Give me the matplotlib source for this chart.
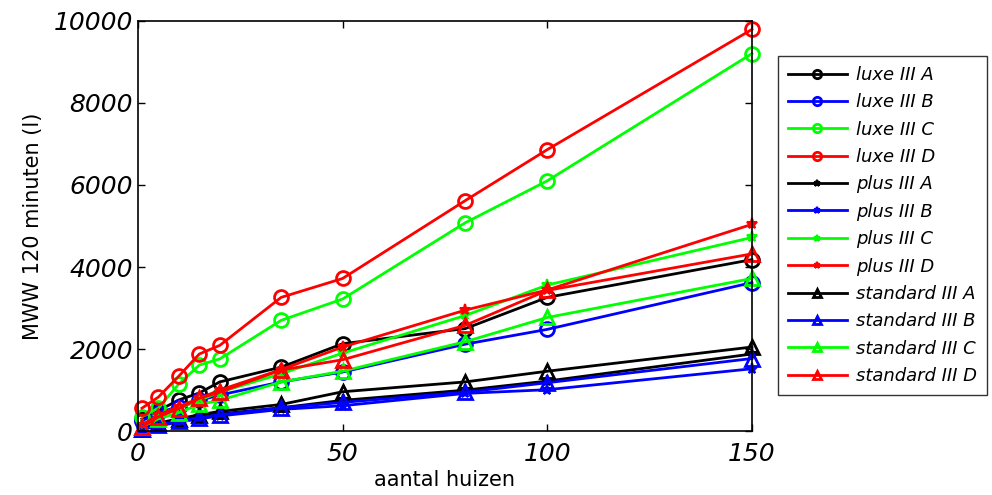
import matplotlib
matplotlib.use('Agg')
import matplotlib.pyplot as plt

## aantal huizen
huizen = [1, 5, 10, 15, 20, 35, 50, 80, 100, 150]

## MWW 120 minuten per type
luxe_A = [300, 500, 760, 930, 1200, 1560, 2130, 2500, 3260, 4180]
luxe_B = [250, 450, 600, 750, 880, 1200, 1440, 2120, 2480, 3620]
luxe_C = [350, 560, 1150, 1610, 1760, 2700, 3220, 5080, 6100, 9200]
luxe_D = [560, 830, 1340, 1880, 2090, 3260, 3720, 5620, 6860, 9790]
plus_A = [50, 150, 250, 350, 420, 570, 750, 1000, 1220, 1880]
plus_B = [40, 130, 220, 300, 370, 530, 620, 920, 1010, 1520]
plus_C = [150, 350, 550, 750, 950, 1400, 1900, 2820, 3560, 4720]
plus_D = [150, 400, 600, 800, 1000, 1500, 2050, 2950, 3440, 5040]
std_A = [50, 200, 300, 400, 480, 650, 960, 1200, 1460, 2050]
std_B = [50, 150, 250, 330, 400, 570, 700, 950, 1180, 1770]
std_C = [100, 300, 450, 650, 750, 1200, 1460, 2180, 2770, 3720]
std_D = [100, 350, 550, 800, 950, 1490, 1740, 2580, 3430, 4320]

series = [
    ('luxe III A', luxe_A, 'o'), ('luxe III B', luxe_B, 'o'),
    ('luxe III C', luxe_C, 'o'), ('luxe III D', luxe_D, 'o'),
    ('plus III A', plus_A, '*'), ('plus III B', plus_B, '*'),
    ('plus III C', plus_C, '*'), ('plus III D', plus_D, '*'),
    ('standard III A', std_A, '^'), ('standard III B', std_B, '^'),
    ('standard III C', std_C, '^'), ('standard III D', std_D, '^'),
]
kleuren = ['#000000', '#0000ff', '#00ff00', '#ff0000']

fig = plt.figure(figsize=(9.92, 4.95), dpi=100)
ax = fig.add_axes([0.139, 0.129, 0.619, 0.829])

for i, (naam, y, m) in enumerate(series):
    c = kleuren[i % 4]
    if m == '*':
        ax.plot(huizen, y, color=c, lw=2, marker=m, ms=8, mfc=c, mew=1.5,
                label=naam, clip_on=False)
    else:
        ax.plot(huizen, y, color=c, lw=2, marker=m, ms=10, mfc='none', mew=2,
                label=naam, clip_on=False)

ax.set_xlim(0, 150)
ax.set_ylim(0, 10000)
ax.set_xticks([0, 50, 100, 150])
ax.set_yticks([0, 2000, 4000, 6000, 8000, 10000])
ax.tick_params(direction='in', length=5, top=True, right=True, width=1)
ax.tick_params(axis='x', pad=8)
for lab in ax.get_xticklabels() + ax.get_yticklabels():
    lab.set_fontsize(18)
    lab.set_fontstyle('italic')
for s in ax.spines.values():
    s.set_linewidth(1.2)

ax.set_xlabel('aantal huizen', fontsize=15, labelpad=3)
ax.set_ylabel('MWW 120 minuten (l)', fontsize=15, labelpad=8)

leg = ax.legend(loc='upper left', bbox_to_anchor=(0.784, 0.887),
                bbox_transform=fig.transFigure, fontsize=13, frameon=True,
                fancybox=False, edgecolor='black', borderpad=0.55,
                borderaxespad=0, labelspacing=0.52, handlelength=3.3,
                handletextpad=0.5, markerscale=0.6)
leg.get_frame().set_linewidth(1)
for t in leg.get_texts():
    t.set_fontstyle('italic')

fig.savefig('out.png', dpi=100)
